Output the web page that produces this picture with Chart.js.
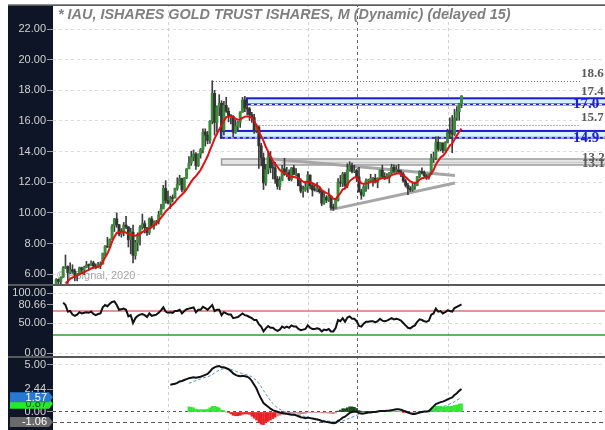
<!DOCTYPE html>
<html>
<head>
<meta charset="utf-8">
<script src="https://cdn.jsdelivr.net/npm/chart.js@4.4.1/dist/chart.umd.min.js"></script>
<style>
  html, body { margin: 0; padding: 0; background: #fff; }
  #wrap { position: relative; width: 605px; height: 430px; overflow: hidden; }
  #wrap canvas { position: absolute; left: 0; }
</style>
</head>
<body>
<div id="wrap">
  <canvas id="priceChart" width="605" height="280" style="top:4px"></canvas>
  <canvas id="rsiChart" width="605" height="72" style="top:284px"></canvas>
  <canvas id="macdChart" width="605" height="74" style="top:356px"></canvas>
</div>
<script>
// monthly bars, index 0 = Jan 2006 ... index 174 = Jul 2020
const opens = [
  5.10, 5.66, 5.53, 5.79, 6.41, 6.50, 6.10, 6.30, 6.20, 5.96, 6.00, 6.43,
  6.29, 6.45, 6.60, 6.58, 6.74, 6.54, 6.45, 6.60, 6.67, 7.37, 7.83, 7.77,
  8.27, 9.14, 9.61, 9.24, 8.62, 8.76, 9.21, 9.09, 8.25, 8.75, 7.23, 8.06,
  8.60, 9.07, 9.30, 9.04, 8.72, 9.62, 9.14, 9.36, 9.43, 9.88, 10.26, 11.60,
  10.82, 10.65, 10.99, 10.96, 11.61, 11.89, 12.25, 11.51, 12.27, 12.87, 13.26, 13.65,
  13.84, 13.08, 13.84, 14.13, 15.28, 15.08, 14.73, 15.99, 17.80, 15.91, 16.91, 17.15,
  15.38, 17.02, 16.63, 16.35, 16.31, 15.27, 15.66, 15.90, 16.58, 17.37, 16.86, 16.79,
  16.42, 16.22, 15.42, 15.60, 14.38, 13.61, 11.96, 12.82, 13.64, 12.96, 12.93, 12.21,
  11.74, 12.13, 12.88, 12.52, 12.64, 12.19, 12.94, 12.50, 12.55, 11.78, 11.43, 11.52,
  11.69, 12.47, 11.78, 11.50, 11.49, 11.57, 11.39, 10.64, 11.01, 10.84, 11.10, 10.35,
  10.31, 10.83, 12.01, 11.95, 12.54, 11.79, 12.80, 13.10, 12.69, 12.77, 12.35, 11.38,
  11.17, 11.71, 12.08, 12.08, 12.26, 12.26, 12.01, 12.27, 12.78, 12.38, 12.29, 12.33,
  12.60, 12.98, 12.72, 12.79, 12.69, 12.54, 12.09, 11.81, 11.60, 11.50, 11.72, 11.79,
  12.37, 12.71, 12.63, 12.43, 12.35, 12.55, 13.55, 13.60, 14.62, 14.16, 14.56, 14.08,
  14.59, 15.25, 15.22, 15.14, 16.20, 16.61, 17.10
];
const highs = [
  5.72, 5.71, 5.83, 6.51, 7.26, 6.55, 6.74, 6.62, 6.34, 6.07, 6.47, 6.47,
  6.53, 6.84, 6.67, 6.88, 6.85, 6.68, 6.78, 6.81, 7.39, 7.87, 8.41, 8.31,
  9.24, 9.65, 10.01, 9.25, 8.98, 9.38, 9.78, 9.11, 9.01, 9.21, 8.22, 8.71,
  9.18, 9.93, 9.49, 9.05, 9.68, 9.77, 9.48, 9.52, 10.11, 10.56, 11.80, 12.11,
  11.43, 11.10, 11.18, 11.62, 12.30, 12.46, 12.27, 12.31, 12.90, 13.67, 14.03, 14.11,
  13.94, 13.86, 14.21, 15.49, 15.49, 15.32, 16.03, 18.62, 18.00, 16.99, 17.72, 17.32,
  17.28, 17.55, 16.86, 16.42, 16.35, 16.07, 15.97, 16.61, 17.54, 17.61, 17.20, 16.88,
  16.56, 16.44, 15.80, 15.68, 14.54, 13.91, 13.17, 14.01, 14.01, 13.30, 13.30, 12.38,
  12.36, 13.11, 13.57, 12.98, 12.82, 12.97, 13.11, 12.90, 12.58, 12.24, 11.75, 12.07,
  12.70, 12.49, 11.86, 11.91, 11.98, 11.71, 11.42, 11.37, 11.14, 11.58, 11.13, 10.58,
  10.94, 12.25, 12.45, 12.65, 12.65, 13.21, 13.34, 13.26, 13.11, 12.86, 12.97, 11.55,
  11.80, 12.22, 12.20, 12.52, 12.30, 12.53, 12.30, 12.82, 13.12, 12.63, 12.57, 12.64,
  13.18, 13.14, 13.09, 13.17, 12.80, 12.64, 12.21, 11.94, 11.72, 11.99, 11.95, 12.39,
  12.76, 12.95, 12.74, 12.51, 12.56, 13.84, 13.97, 14.96, 14.98, 14.60, 14.58, 14.65,
  15.47, 16.21, 16.36, 16.77, 16.94, 17.14, 17.66
];
const lows = [
  5.10, 5.37, 5.33, 5.79, 6.37, 5.40, 6.02, 6.07, 5.57, 5.57, 5.97, 6.07,
  5.98, 6.42, 6.31, 6.55, 6.46, 6.35, 6.42, 6.37, 6.66, 7.19, 7.75, 7.76,
  8.25, 8.79, 9.06, 8.51, 8.42, 8.51, 8.97, 7.78, 7.33, 6.74, 6.98, 7.52,
  7.90, 8.94, 8.69, 8.54, 8.59, 9.01, 8.94, 9.20, 9.28, 9.87, 10.30, 10.63,
  10.59, 10.29, 10.72, 10.99, 11.48, 11.82, 11.38, 11.41, 12.23, 12.90, 13.10, 13.40,
  12.84, 13.03, 13.57, 13.92, 14.36, 14.51, 14.53, 15.81, 15.07, 15.27, 16.35, 14.96,
  15.09, 16.56, 15.94, 15.81, 14.96, 15.19, 15.34, 15.58, 16.56, 16.61, 16.39, 16.03,
  15.90, 15.19, 15.24, 12.91, 13.07, 11.53, 11.80, 12.54, 12.62, 12.22, 11.93, 11.55,
  11.52, 12.09, 12.45, 12.36, 12.10, 12.09, 12.48, 12.41, 11.76, 11.31, 11.03, 11.41,
  11.34, 11.57, 11.10, 11.42, 11.37, 11.29, 10.47, 10.55, 10.67, 10.75, 10.23, 10.17,
  10.30, 10.77, 11.71, 11.72, 11.64, 11.64, 12.72, 12.62, 12.63, 12.04, 11.36, 10.89,
  11.08, 11.41, 11.56, 12.00, 11.74, 11.95, 11.64, 12.21, 12.29, 12.18, 12.22, 11.96,
  12.56, 12.61, 12.57, 12.64, 12.37, 12.01, 11.69, 11.19, 11.40, 11.41, 11.54, 11.78,
  12.28, 12.53, 12.32, 12.18, 12.20, 12.52, 13.29, 13.47, 14.04, 14.04, 13.91, 14.04,
  14.56, 14.85, 13.93, 15.05, 16.03, 16.04, 16.87
];
const closes = [
  5.66, 5.53, 5.79, 6.41, 6.50, 6.10, 6.30, 6.20, 5.96, 6.00, 6.43, 6.29,
  6.45, 6.60, 6.58, 6.74, 6.54, 6.45, 6.60, 6.67, 7.37, 7.83, 7.77, 8.27,
  9.14, 9.61, 9.24, 8.62, 8.76, 9.21, 9.09, 8.25, 8.75, 7.23, 8.06, 8.60,
  9.07, 9.30, 9.04, 8.72, 9.62, 9.14, 9.36, 9.43, 9.88, 10.26, 11.60, 10.82,
  10.65, 10.99, 10.96, 11.61, 11.89, 12.25, 11.51, 12.27, 12.87, 13.26, 13.65, 13.84,
  13.08, 13.84, 14.13, 15.28, 15.08, 14.73, 15.99, 17.80, 15.91, 16.91, 17.15, 15.38,
  17.02, 16.63, 16.35, 16.31, 15.27, 15.66, 15.90, 16.58, 17.37, 16.86, 16.79, 16.42,
  16.22, 15.42, 15.60, 14.38, 13.61, 11.96, 12.82, 13.64, 12.96, 12.93, 12.21, 11.74,
  12.13, 12.88, 12.52, 12.64, 12.19, 12.94, 12.50, 12.55, 11.78, 11.43, 11.52, 11.69,
  12.47, 11.78, 11.50, 11.49, 11.57, 11.39, 10.64, 11.01, 10.84, 11.10, 10.35, 10.31,
  10.83, 12.01, 11.95, 12.54, 11.79, 12.80, 13.10, 12.69, 12.77, 12.35, 11.38, 11.17,
  11.71, 12.08, 12.08, 12.26, 12.26, 12.01, 12.27, 12.78, 12.38, 12.29, 12.33, 12.60,
  12.98, 12.72, 12.79, 12.69, 12.54, 12.09, 11.81, 11.60, 11.50, 11.72, 11.79, 12.37,
  12.71, 12.63, 12.43, 12.35, 12.55, 13.55, 13.60, 14.62, 14.16, 14.56, 14.08, 14.59,
  15.25, 15.22, 15.14, 16.20, 16.61, 17.10, 17.62
];
// red moving average
const maLine = [
  null, null, null, null, 5.40, 5.55, 5.70, 5.80, 5.85, 5.90, 6.00, 6.06,
  6.12, 6.22, 6.29, 6.38, 6.42, 6.45, 6.50, 6.56, 6.80, 7.10, 7.35, 7.70,
  8.13, 8.45, 8.70, 8.76, 8.78, 8.78, 8.72, 8.63, 8.60, 8.55, 8.52, 8.57,
  8.65, 8.75, 8.85, 8.90, 9.00, 9.10, 9.20, 9.33, 9.50, 9.70, 9.87, 10.10,
  10.25, 10.40, 10.55, 10.70, 10.90, 11.05, 11.20, 11.35, 11.55, 11.80, 12.05, 12.25,
  12.40, 12.60, 12.80, 13.10, 13.40, 13.70, 14.10, 14.45, 14.85, 15.15, 15.45, 15.70,
  16.00, 16.25, 16.30, 16.30, 16.25, 16.15, 16.08, 16.10, 16.20, 16.28, 16.30, 16.30,
  16.20, 16.00, 15.70, 15.30, 15.00, 14.70, 14.30, 14.00, 13.70, 13.40, 13.20, 13.00,
  12.80, 12.70, 12.60, 12.50, 12.40, 12.38, 12.35, 12.32, 12.25, 12.15, 12.05, 11.98,
  12.05, 12.02, 11.94, 11.85, 11.79, 11.71, 11.50, 11.40, 11.29, 11.25, 11.07, 10.92,
  10.90, 11.12, 11.29, 11.54, 11.59, 11.83, 12.08, 12.20, 12.31, 12.32, 12.13, 11.94,
  11.89, 11.93, 11.96, 12.02, 12.07, 12.06, 12.10, 12.24, 12.27, 12.27, 12.28, 12.34,
  12.47, 12.52, 12.57, 12.59, 12.58, 12.48, 12.35, 12.20, 12.06, 11.99, 11.95, 12.03,
  12.17, 12.26, 12.29, 12.30, 12.35, 12.59, 12.79, 13.16, 13.40, 13.62, 13.72, 13.90,
  14.15, 14.40, 14.52, 14.80, 15.05, 15.30, 15.50
];
const rsiLine = [
  null, null, null, 84, 80, 69, 70, 64, 62, 64, 68, 66,
  67, 68, 67, 69, 65, 63, 65, 66, 76, 80, 78, 82,
  85, 86, 80, 72, 73, 74, 72, 61, 63, 50, 58, 62,
  64, 65, 63, 60, 66, 62, 63, 64, 67, 71, 76, 69,
  67, 68, 67, 70, 70, 72, 66, 70, 73, 74, 75, 76,
  68, 72, 72, 77, 75, 72, 76, 80, 70, 72, 72, 63,
  68, 66, 64, 64, 58, 59, 60, 63, 66, 63, 62, 60,
  58, 55, 55, 48, 44, 36, 41, 45, 42, 42, 39, 37,
  39, 44, 42, 44, 42, 46, 44, 44, 40, 38, 39, 40,
  46, 42, 40, 40, 41, 40, 36, 39, 38, 40, 36, 36,
  42, 55, 53, 58, 52, 59, 61, 57, 57, 53, 45, 44,
  49, 52, 52, 53, 53, 51, 53, 57, 54, 53, 54, 56,
  58, 56, 57, 56, 54, 50, 46, 42, 41, 44, 46, 52,
  56, 55, 53, 52, 54, 64, 66, 74, 69, 70, 66, 68,
  71, 70, 69, 75, 77, 79, 81
];
const macdLine = [
  null, null, null, null, null, null, null, null, null, null, null, null,
  null, null, null, null, null, null, null, null, null, null, null, null,
  null, null, null, null, null, null, null, null, null, null, null, null,
  null, null, null, null, null, null, null, null, null, null, null, null,
  null, 2.9, 2.95, 3.0, 3.1, 3.25, 3.3, 3.4, 3.5, 3.6, 3.65, 3.7,
  3.65, 3.7, 3.75, 3.85, 3.95, 4.05, 4.3, 4.6, 4.75, 4.85, 4.9, 4.75,
  4.75, 4.65, 4.55, 4.35, 4.1, 3.95, 3.85, 3.8, 3.85, 3.8, 3.75, 3.6,
  3.3, 2.9, 2.5, 1.9, 1.4, 0.95, 0.75, 0.55, 0.35, 0.2, 0.1, 0.02,
  -0.05, -0.1, -0.15, -0.2, -0.25, -0.3, -0.3, -0.35, -0.45, -0.55, -0.6, -0.65,
  -0.6, -0.65, -0.7, -0.75, -0.8, -0.85, -0.95, -1.0, -1.05, -1.1, -1.15, -1.2,
  -1.15, -0.95, -0.8, -0.6, -0.5, -0.3, -0.1, 0.0, 0.05, 0.02, -0.1, -0.15,
  -0.15, -0.1, -0.05, -0.05, 0.0, 0.0, 0.05, 0.1, 0.1, 0.1, 0.12, 0.15,
  0.2, 0.25, 0.3, 0.3, 0.25, 0.15, 0.05, -0.05, -0.15, -0.2, -0.2, -0.15,
  -0.05, 0.0, 0.05, 0.05, 0.1, 0.35, 0.6, 0.85, 0.95, 1.05, 1.1, 1.2,
  1.35, 1.45, 1.55, 1.8, 2.0, 2.25, 2.44
];
const signalLine = [
  null, null, null, null, null, null, null, null, null, null, null, null,
  null, null, null, null, null, null, null, null, null, null, null, null,
  null, null, null, null, null, null, null, null, null, null, null, null,
  null, null, null, null, null, null, null, null, null, null, null, null,
  null, null, null, null, null, null, null, null, null, 3.05, 3.15, 3.25,
  3.35, 3.45, 3.5, 3.6, 3.7, 3.75, 3.85, 4.0, 4.15, 4.3, 4.45, 4.55,
  4.6, 4.65, 4.62, 4.55, 4.45, 4.35, 4.25, 4.15, 4.1, 4.0, 3.95, 3.85,
  3.75, 3.55, 3.35, 3.05, 2.7, 2.3, 1.9, 1.55, 1.2, 0.9, 0.65, 0.45,
  0.3, 0.15, 0.05, -0.05, -0.1, -0.15, -0.2, -0.25, -0.3, -0.35, -0.42, -0.5,
  -0.55, -0.6, -0.65, -0.7, -0.75, -0.8, -0.85, -0.9, -0.95, -0.98, -1.0, -1.03,
  -1.05, -1.05, -1.0, -0.95, -0.85, -0.75, -0.65, -0.55, -0.45, -0.35, -0.25, -0.23,
  -0.2, -0.14, -0.08, -0.08, -0.03, -0.03, 0.02, 0.07, 0.07, 0.07, 0.09, 0.12,
  0.17, 0.22, 0.27, 0.27, 0.22, 0.19, 0.09, -0.01, -0.11, -0.16, -0.16, -0.11,
  -0.07, -0.02, 0.03, 0.03, 0.08, 0.08, 0.15, 0.25, 0.35, 0.45, 0.55, 0.65,
  0.75, 0.85, 0.95, 1.1, 1.25, 1.4, 1.57
];
const histBars = [
  null, null, null, null, null, null, null, null, null, null, null, null,
  null, null, null, null, null, null, null, null, null, null, null, null,
  null, null, null, null, null, null, null, null, null, null, null, null,
  null, null, null, null, null, null, null, null, null, null, null, null,
  null, null, null, null, null, null, null, null, null, 0.55, 0.5, 0.45,
  0.3, 0.25, 0.25, 0.25, 0.25, 0.3, 0.45, 0.6, 0.6, 0.55, 0.45, 0.2,
  0.15, 0.0, -0.07, -0.2, -0.35, -0.4, -0.4, -0.35, -0.25, -0.2, -0.2, -0.25,
  -0.45, -0.65, -0.85, -1.15, -1.3, -1.35, -1.15, -1.0, -0.85, -0.7, -0.55, -0.43,
  -0.35, -0.25, -0.2, -0.15, -0.15, -0.15, -0.1, -0.1, -0.15, -0.2, -0.18, -0.15,
  -0.05, -0.05, -0.05, -0.05, -0.05, -0.05, -0.1, -0.1, -0.1, -0.12, -0.15, -0.17,
  -0.1, 0.1, 0.2, 0.35, 0.35, 0.45, 0.55, 0.55, 0.5, 0.37, 0.15, 0.08,
  0.05, 0.04, 0.03, 0.03, 0.03, 0.03, 0.03, 0.03, 0.03, 0.03, 0.03, 0.03,
  0.03, 0.03, 0.03, 0.03, 0.03, -0.04, -0.04, -0.04, -0.04, -0.04, -0.04, -0.04,
  0.02, 0.02, 0.02, 0.02, 0.02, 0.27, 0.45, 0.6, 0.6, 0.6, 0.55, 0.55,
  0.6, 0.6, 0.6, 0.7, 0.75, 0.85, 0.87
];

const priceTicks = [6, 8, 10, 12, 14, 16, 18, 20, 22];
const rsiTicks = [0, 50, 80.66, 100];
const rsiLevels = [70, 30];
const macdTicks = [0, 2.44, 5];
const macdBadges = [-1.06, 0.87, 1.57];

// drawn studies on the price pane
const levelLines = [18.62, 15.75];
const levelStarts = [67.3, 86];
const zoneBands = [[17.48, 17.08], [15.35, 14.9]];
const zoneStarts = [81.9, 70.7];
const grayBand = [13.52, 13.13];
const grayStart = 71;
const upperTrend = [{ x: 90.9, y: 13.55 }, { x: 171.2, y: 12.45 }];
const lowerTrend = [{ x: 117.5, y: 10.2 }, { x: 171.2, y: 11.95 }];
const sideLabels = ['18.6', '17.4', '17.0', '15.7', '14.9', '13.2', '13.1'];
const sideValues = [18.62, 17.48, 17.08, 15.75, 14.9, 13.52, 13.13];

const yearMarks = [48, 108, 168];
const cursorMark = 129.1;
const xMin = -1.36, xMax = 235.6;

Chart.defaults.font.family = 'Arial, "Liberation Sans", sans-serif';
const LEFT_EDGE = 8;
const AXIS_W = 53;
const tickColor = '#d2d2d2';

function line(ctx, x1, y1, x2, y2) {
  ctx.beginPath(); ctx.moveTo(x1, y1); ctx.lineTo(x2, y2); ctx.stroke();
}

const panelFrame = {
  id: 'panelFrame',
  beforeDraw(chart) {
    const { ctx, chartArea: a, width, height } = chart;
    ctx.save();
    ctx.fillStyle = '#ffffff';
    ctx.fillRect(0, 0, width, height);
    ctx.fillStyle = '#0d1526';
    ctx.fillRect(LEFT_EDGE, 0, a.left - LEFT_EDGE, height);
    ctx.restore();
  },
  beforeDatasetsDraw(chart) {
    const { ctx, chartArea: a, scales: { x } } = chart;
    ctx.save();
    ctx.lineWidth = 1;
    ctx.setLineDash([3, 3]);
    ctx.strokeStyle = '#d0d0d0';
    yearMarks.forEach(m => {
      const px = Math.round(x.getPixelForValue(m)) + 0.5;
      line(ctx, px, a.top, px, a.bottom);
    });
    ctx.strokeStyle = '#666';
    const cx = Math.round(x.getPixelForValue(cursorMark)) + 0.5;
    line(ctx, cx, a.top, cx, a.bottom);
    ctx.restore();
  },
  afterDraw(chart, args, opts) {
    const { ctx, width } = chart;
    ctx.save();
    ctx.fillStyle = opts.color || '#5a5a5a';
    ctx.fillRect(LEFT_EDGE, 0, width - LEFT_EDGE, opts.thick || 2);
    ctx.restore();
  }
};

function yAxis(min, max, ticks, gridColor) {
  return {
    position: 'left', min: min, max: max,
    afterFit: s => { s.width = AXIS_W; s.paddingTop = 0; s.paddingBottom = 0; },
    afterBuildTicks: s => { s.ticks = ticks.map(v => ({ value: v })); },
    ticks: { color: tickColor, font: { size: 11 }, padding: 1, callback: v => Number(v).toFixed(2) },
    grid: { color: gridColor, tickColor: '#9a9a9a', tickLength: 6, lineWidth: 1 },
    border: { display: false, dash: [3, 3] }
  };
}
const xAxis = { type: 'linear', min: xMin, max: xMax, display: false, offset: false };
const baseOpts = {
  responsive: false, animation: false, events: [], devicePixelRatio: 1,
  layout: { autoPadding: false, padding: 0 }
};

// ---------- price pane ----------
const priceOverlay = {
  id: 'priceOverlay',
  beforeDatasetsDraw(chart) {
    const { ctx, chartArea: a, scales: { x, y } } = chart;
    ctx.save();
    ctx.beginPath(); ctx.rect(a.left, a.top, a.right - a.left, a.bottom - a.top); ctx.clip();
    ctx.fillStyle = '#a6a6a6';
    ctx.font = '11px Arial';
    ctx.textBaseline = 'middle';
    ctx.fillText('\u00a9 eSignal, 2020', a.left + 4, a.bottom - 8);

    let gx = x.getPixelForValue(grayStart);
    let gt = y.getPixelForValue(grayBand[0]), gb = y.getPixelForValue(grayBand[1]);
    ctx.fillStyle = '#e4e4e4';
    ctx.fillRect(gx, gt, a.right - gx, gb - gt);
    ctx.strokeStyle = '#9c9c9c'; ctx.lineWidth = 1.5;
    ctx.strokeRect(gx, gt, a.right - gx + 5, gb - gt);
    ctx.setLineDash([1, 1]); ctx.lineWidth = 1; ctx.strokeStyle = '#b0b0b0';
    line(ctx, gx + 60, Math.round(gb) - 2.5, a.right, Math.round(gb) - 2.5);

    ctx.setLineDash([1, 2]); ctx.strokeStyle = '#6a6a6a';
    levelLines.forEach((v, k) => {
      const py = Math.round(y.getPixelForValue(v)) + 0.5;
      line(ctx, x.getPixelForValue(levelStarts[k]), py, a.right - 25, py);
    });
    ctx.setLineDash([]);

    zoneBands.forEach((b, k) => {
      const zx = x.getPixelForValue(zoneStarts[k]);
      const top = y.getPixelForValue(b[0]), bot = y.getPixelForValue(b[1]);
      ctx.fillStyle = '#d5f3fb';
      ctx.fillRect(zx, top, a.right - zx, bot - top);
      ctx.strokeStyle = '#1d1dcf'; ctx.lineWidth = 2;
      ctx.strokeRect(zx, top, a.right - zx + 5, bot - top);
      ctx.strokeStyle = '#ffffff'; ctx.lineWidth = 1; ctx.setLineDash([3, 3]);
      line(ctx, zx + 4, bot, a.right, bot);
      ctx.setLineDash([]);
    });
    ctx.restore();
  },
  afterDraw(chart) {
    const { ctx, chartArea: a, scales: { y } } = chart;
    ctx.save();
    ctx.fillStyle = '#8c8c8c';
    ctx.fillRect(LEFT_EDGE, 0, chart.width - LEFT_EDGE, 1);
    ctx.fillStyle = '#7f7f7f';
    ctx.font = 'italic bold 14.4px Arial';
    ctx.textBaseline = 'middle';
    ctx.fillText('* IAU, ISHARES GOLD TRUST ISHARES, M (Dynamic) (delayed 15)', 58, 11);
    sideLabels.forEach((t, k) => {
      const py = y.getPixelForValue(sideValues[k]);
      if (t === '17.0' || t === '14.9') {
        ctx.font = 'bold 15px "Liberation Serif", serif';
        ctx.fillStyle = '#1c1ce0';
        ctx.textBaseline = 'middle';
        ctx.fillText(t, a.right - 32, py);
      } else if (t === '13.2' || t === '13.1') {
        ctx.font = 'bold 13px "Liberation Serif", serif';
        ctx.fillStyle = '#5a5a5a';
        ctx.textBaseline = 'middle';
        ctx.fillText(t, a.right - 23, py - 1.5);
      } else {
        ctx.font = 'bold 13px "Liberation Serif", serif';
        ctx.fillStyle = '#5a5a5a';
        ctx.textBaseline = 'bottom';
        ctx.fillText(t, a.right - 24, py - 0.5);
      }
    });
    ctx.restore();
  }
};

const upColor = '#3b8c3b', downColor = '#333333';
new Chart(document.getElementById('priceChart'), {
  type: 'bar',
  data: {
    datasets: [
      { type: 'line', data: maLine.map((v, i) => ({ x: i, y: v })), borderColor: '#e01010', borderWidth: 2, pointRadius: 0 },
      {
        data: opens.map((o, i) => ({ x: i, y: [o, closes[i]] })),
        backgroundColor: c => closes[c.dataIndex] >= opens[c.dataIndex] ? upColor : downColor,
        grouped: false, maxBarThickness: 2.3, minBarLength: 1, barPercentage: 1, categoryPercentage: 1
      },
      {
        data: lows.map((l, i) => ({ x: i, y: [l, highs[i]] })),
        backgroundColor: '#3d3d3d',
        grouped: false, maxBarThickness: 1, barPercentage: 1, categoryPercentage: 1
      },
      { type: 'line', data: upperTrend, borderColor: '#a6a6a6', borderWidth: 3, pointRadius: 0 },
      { type: 'line', data: lowerTrend, borderColor: '#a6a6a6', borderWidth: 3, pointRadius: 0 }
    ]
  },
  options: Object.assign({}, baseOpts, {
    scales: { x: xAxis, y: yAxis(5.366, 23.631, priceTicks, '#dcdcdc') },
    plugins: { legend: { display: false }, tooltip: { enabled: false }, panelFrame: { thick: 0 } }
  }),
  plugins: [panelFrame, priceOverlay]
});

// ---------- RSI pane ----------
const rsiOverlay = {
  id: 'rsiOverlay',
  beforeDatasetsDraw(chart) {
    const { ctx, chartArea: a, scales: { y } } = chart;
    ctx.save();
    ctx.lineWidth = 1.5;
    ['#d97373', '#2e9e2e'].forEach((col, k) => {
      ctx.strokeStyle = col;
      const py = y.getPixelForValue(rsiLevels[k]);
      line(ctx, a.left, py, a.right, py);
    });
    ctx.restore();
  }
};
new Chart(document.getElementById('rsiChart'), {
  type: 'line',
  data: {
    datasets: [
      { data: rsiLine.map((v, i) => ({ x: i, y: v })), borderColor: '#111', borderWidth: 2, pointRadius: 0 }
    ]
  },
  options: Object.assign({}, baseOpts, {
    scales: {
      x: xAxis,
      y: yAxis(-5, 115, rsiTicks, c => (c.tick && c.tick.value === 80.66) ? 'rgba(0,0,0,0)' : '#dcdcdc')
    },
    plugins: { legend: { display: false }, tooltip: { enabled: false }, panelFrame: { thick: 2 } }
  }),
  plugins: [panelFrame, rsiOverlay]
});

// ---------- MACD pane ----------
const macdOverlay = {
  id: 'macdOverlay',
  beforeDatasetsDraw(chart) {
    const { ctx, chartArea: a, scales: { y } } = chart;
    ctx.save();
    ctx.strokeStyle = '#555'; ctx.lineWidth = 1; ctx.setLineDash([4, 3]);
    const py = Math.round(y.getPixelForValue(macdBadges[0])) + 0.5;
    line(ctx, a.left, py, a.right, py);
    ctx.restore();
  },
  afterDraw(chart) {
    const { ctx, chartArea: a, scales: { y } } = chart;
    const fills = ['#6a6a6a', '#22ec22', '#2878d0'];
    const texts = ['#ffffff', '#1e4a1e', '#ffffff'];
    ctx.save();
    ctx.font = '11px Arial';
    ctx.textAlign = 'right';
    ctx.textBaseline = 'middle';
    macdBadges.forEach((v, k) => {
      const cy = y.getPixelForValue(v);
      ctx.fillStyle = fills[k];
      ctx.beginPath();
      ctx.moveTo(10, cy - 5);
      ctx.lineTo(a.left - 4, cy - 5);
      ctx.lineTo(a.left, cy);
      ctx.lineTo(a.left - 4, cy + 5);
      ctx.lineTo(10, cy + 5);
      ctx.closePath();
      ctx.fill();
      ctx.fillStyle = texts[k];
      ctx.fillText(v.toFixed(2), a.left - 6, cy + 0.5);
    });
    ctx.restore();
  }
};
new Chart(document.getElementById('macdChart'), {
  type: 'bar',
  data: {
    datasets: [
      { type: 'line', data: macdLine.map((v, i) => ({ x: i, y: v })), borderColor: '#111', borderWidth: 2, pointRadius: 0 },
      { type: 'line', data: signalLine.map((v, i) => ({ x: i, y: v })), borderColor: '#5b8fc0', borderWidth: 1, borderDash: [3, 2], pointRadius: 0 },
      {
        data: histBars.map((v, i) => ({ x: i, y: v })),
        backgroundColor: c => {
          const h = histBars[c.dataIndex], m = macdLine[c.dataIndex];
          if (h >= 0) return m >= 0.1 ? '#2fe82f' : '#1d4a1d';
          return m >= 0.1 ? '#e82222' : '#c98585';
        },
        grouped: false, maxBarThickness: 2, barPercentage: 1, categoryPercentage: 1
      }
    ]
  },
  options: Object.assign({}, baseOpts, {
    scales: {
      x: xAxis,
      y: yAxis(-1.915, 5.957, macdTicks, c => {
        if (!c.tick) return '#dcdcdc';
        if (c.tick.value === 0) return '#555';
        if (c.tick.value === 2.44) return 'rgba(0,0,0,0)';
        return '#dcdcdc';
      })
    },
    plugins: { legend: { display: false }, tooltip: { enabled: false }, panelFrame: { thick: 2 } }
  }),
  plugins: [panelFrame, macdOverlay]
});
</script>
</body>
</html>
